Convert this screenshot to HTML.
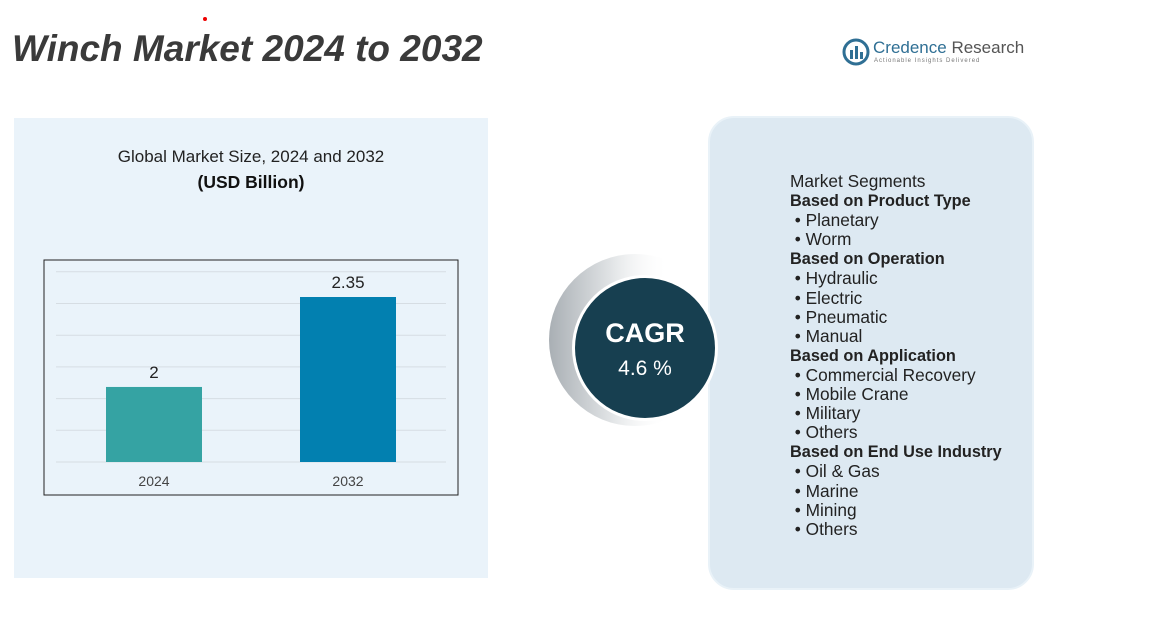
<!DOCTYPE html>
<html><head><meta charset="utf-8"><style>
body{margin:0;width:1163px;height:621px;background:#fff;position:relative;overflow:hidden;font-family:"Liberation Sans",sans-serif}
.abs{position:absolute}
#title{left:12px;top:28px;font-size:37px;font-weight:bold;font-style:italic;color:#3a3a3a;letter-spacing:0px}
#leftpanel{left:14px;top:118px;width:474px;height:460px;background:#eaf3fa}
#rightpanel{left:708px;top:116px;width:322px;height:470px;background:#dde9f2;border:2px solid #e9f2f8;border-radius:26px}
.seg{left:790px;font-size:17.3px;color:#222;line-height:19.1px;white-space:nowrap}
.seg b{font-weight:bold;font-size:16.3px}
</style></head><body>
<div class="abs" id="leftpanel"></div>
<div class="abs" id="title">Winch Market 2024 to 2032</div>
<div class="abs" style="left:203px;top:17px;width:4px;height:4px;border-radius:2px;background:#e00"></div>
<div class="abs" style="left:842px;top:38px;">
<svg width="28" height="28"><circle cx="14" cy="14" r="12" fill="none" stroke="#2f6f94" stroke-width="3"/><rect x="8" y="12" width="3" height="9" fill="#2f6f94"/><rect x="13" y="8" width="3" height="13" fill="#2f6f94"/><rect x="18" y="14" width="3" height="7" fill="#2f6f94"/></svg>
<span class="abs" style="left:31px;top:0;font-size:17px;color:#2f6f94;white-space:nowrap">Credence <span style="color:#555">Research</span></span>
<span class="abs" style="left:32px;top:20px;font-size:6px;color:#777;white-space:nowrap;letter-spacing:1px">Actionable Insights Delivered</span>
</div>
<div class="abs" style="left:14px;top:147px;width:474px;text-align:center;font-size:17px;color:#222">Global Market Size, 2024 and 2032</div>
<div class="abs" style="left:14px;top:172px;width:474px;text-align:center;font-size:17.5px;font-weight:bold;color:#111">(USD Billion)</div>
<svg class="abs" style="left:0;top:0" width="1163" height="621" id="chart">
<rect x="44" y="260" width="414" height="235" fill="none" stroke="#222" stroke-width="1"/>
<g id="grid"></g><g id="bars"></g>
</svg>
<div class="abs" id="rightpanel"></div>
<svg class="abs" style="left:530px;top:240px" width="200" height="200">
<defs><linearGradient id="g" x1="0" x2="1"><stop offset="0" stop-color="#a9afb4"/><stop offset="0.35" stop-color="#dfe2e4"/><stop offset="0.7" stop-color="#fff" stop-opacity="0"/></linearGradient></defs>
<circle cx="105" cy="100" r="86" fill="url(#g)"/>
<circle cx="115" cy="108" r="73" fill="#fff"/>
<circle cx="115" cy="108" r="70" fill="#173f50"/>
<text x="115" y="102" text-anchor="middle" font-size="27" font-weight="bold" fill="#fff" font-family="Liberation Sans">CAGR</text>
<text x="115" y="135" text-anchor="middle" font-size="21" fill="#fff" font-family="Liberation Sans">4.6 %</text>
</svg>
<div class="abs seg" style="top:172px">
Market Segments<br><b>Based on Product Type</b><br>&nbsp;• Planetary<br>&nbsp;• Worm<br><b>Based on Operation</b><br>&nbsp;• Hydraulic<br>&nbsp;• Electric<br>&nbsp;• Pneumatic<br>&nbsp;• Manual<br><b>Based on Application</b><br>&nbsp;• Commercial Recovery<br>&nbsp;• Mobile Crane<br>&nbsp;• Military<br>&nbsp;• Others<br><b>Based on End Use Industry</b><br>&nbsp;• Oil &amp; Gas<br>&nbsp;• Marine<br>&nbsp;• Mining<br>&nbsp;• Others
</div>
<script>
const categories=["2024","2032"];
const values=[2,2.35];
const labels=["2","2.35"];
const colors=["#35a3a3","#0280b0"];
const NS="http://www.w3.org/2000/svg";
const base=462, yMin=1.708, pxPerUnit=257;
function y(v){return base-(v-yMin)*pxPerUnit;}
function x(i){return 106+i*194;}
const bw=96;
const grid=document.getElementById('grid');
for(let k=0;k<7;k++){const l=document.createElementNS(NS,'line');


const gy=base-k*31.7;l.setAttribute('x1',56);l.setAttribute('x2',446);l.setAttribute('y1',gy);l.setAttribute('y2',gy);l.setAttribute('stroke','#d6dde3');grid.appendChild(l);}
const bars=document.getElementById('bars');
categories.forEach((c,i)=>{
const r=document.createElementNS(NS,'rect');


r.setAttribute('x',x(i));r.setAttribute('width',bw);r.setAttribute('y',y(values[i]));r.setAttribute('height',base-y(values[i]));r.setAttribute('fill',colors[i]);bars.appendChild(r);
const t=document.createElementNS(NS,'text');


t.setAttribute('x',x(i)+bw/2);t.setAttribute('y',y(values[i])-9);t.setAttribute('text-anchor','middle');t.setAttribute('font-size','17');t.setAttribute('fill','#222');t.setAttribute('font-family','Liberation Sans');t.textContent=labels[i];bars.appendChild(t);
const a=document.createElementNS(NS,'text');


a.setAttribute('x',x(i)+bw/2);a.setAttribute('y',486);a.setAttribute('text-anchor','middle');a.setAttribute('font-size','14');a.setAttribute('fill','#444');a.setAttribute('font-family','Liberation Sans');a.textContent=c;bars.appendChild(a);
});
</script>
</body></html>
